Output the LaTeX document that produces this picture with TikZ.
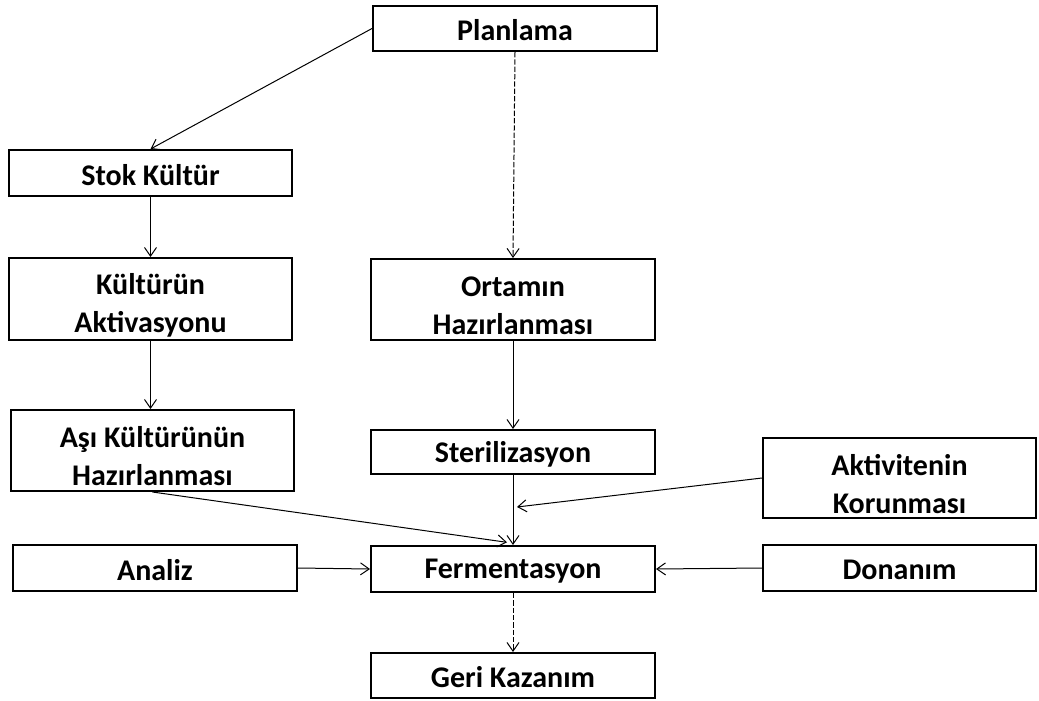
\documentclass[tikz,border=0pt]{standalone}
\usepackage{fontspec}
\setmainfont{Carlito}
\usetikzlibrary{arrows.meta}
\begin{document}
\begin{tikzpicture}[x=0.75pt,y=-0.75pt,
  box/.style={draw=black,line width=1.5pt,rectangle,inner sep=0pt},
  lbl/.style={align=center,inner sep=0pt,font=\fontsize{22.5}{28.5}\selectfont\bfseries},
  t1/.style={label={[lbl,yshift=-1.5pt]center:#1}},
  t2/.style={label={[lbl,yshift=-4.5pt]center:#1}},
  conn/.style={line width=0.75pt,-{Straight Barb[length=6.5pt,width=9pt,line width=0.75pt]}},
  dconn/.style={conn,dash pattern=on 4pt off 1.5pt}]
\useasboundingbox (0,0) rectangle (1039,700);
\node[box,minimum width=213pt,minimum height=33.75pt,t1={Planlama}] (plan) at (515,28.5) {};
\node[box,minimum width=212.25pt,minimum height=34.5pt,t1={Stok Kültür}] (stok) at (150.5,173) {};
\node[box,minimum width=212.25pt,minimum height=61.5pt,t2={Kültürün\\Aktivasyonu}] (aktiv) at (150.5,299) {};
\node[box,minimum width=213pt,minimum height=60.75pt,t2={Ortamın\\Hazırlanması}] (ortam) at (513,299.5) {};
\node[box,minimum width=212.25pt,minimum height=60.75pt,t2={Aşı Kültürünün\\Hazırlanması}] (asi) at (152.5,450.5) {};
\node[box,minimum width=213pt,minimum height=33pt,t1={Sterilizasyon}] (steril) at (513,452) {};
\node[box,minimum width=204.75pt,minimum height=60pt,t2={Aktivitenin\\Korunması}] (korun) at (899.5,478) {};
\node[box,minimum width=213pt,minimum height=34.5pt,t1={Analiz}] (analiz) at (155,568) {};
\node[box,minimum width=213pt,minimum height=34.5pt,t1={Fermentasyon}] (ferm) at (513,569) {};
\node[box,minimum width=204.75pt,minimum height=34.5pt,t1={Donanım}] (donan) at (899.5,568) {};
\node[box,minimum width=213pt,minimum height=33.75pt,t1={Geri Kazanım}] (geri) at (513,675.5) {};
\coordinate (kin) at (517,507);
\draw[conn] (plan.west) -- (stok.north);
\draw[dconn] (plan.south) -- (ortam.north);
\draw[conn] (stok.south) -- (aktiv.north);
\draw[conn] (aktiv.south) -- (asi.north -| aktiv.south);
\draw[conn] (ortam.south) -- (steril.north);
\draw[conn] (steril.south) -- (ferm.north);
\draw[conn] (asi.south) -- ([xshift=-4.5pt,yshift=2pt]ferm.north);
\draw[conn] (korun.west) -- (kin);
\draw[conn] (analiz.east) -- (ferm.west);
\draw[conn] (donan.west) -- (ferm.east);
\draw[dconn] (ferm.south) -- (geri.north);
\end{tikzpicture}
\end{document}
